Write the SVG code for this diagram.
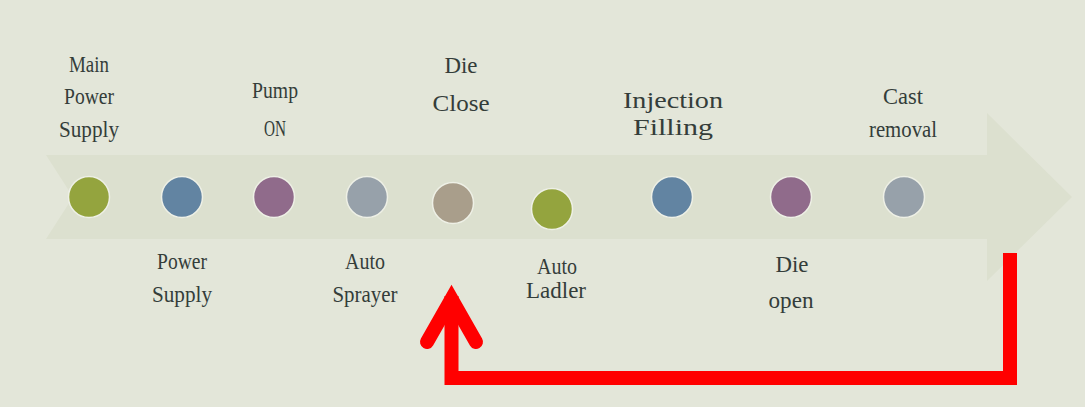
<svg xmlns="http://www.w3.org/2000/svg" width="1085" height="407" viewBox="0 0 1085 407">
<style>
.t{font-family:"Liberation Serif","DejaVu Serif",serif;font-size:23px;fill:#343d3a;text-anchor:middle}
.c{stroke:#eef0e6;stroke-width:1.5}
.red{fill:none;stroke:#ff0000;stroke-width:14}
</style>
<rect width="1085" height="407" fill="#e3e6d9"/>
<g id="band"><path d="M46,155 H987 V113 L1072,197 L987,281 V239 H46 L73,197 Z" fill="#dce0cf"/></g>
<g id="n1"><circle class="c" cx="89" cy="197" r="20.5" fill="#94a43e"/>
<text class="t" x="89" y="72" textLength="40" lengthAdjust="spacingAndGlyphs">Main</text>
<text class="t" x="89" y="104" textLength="50" lengthAdjust="spacingAndGlyphs">Power</text>
<text class="t" x="89" y="137" textLength="60" lengthAdjust="spacingAndGlyphs">Supply</text></g>
<g id="n2"><circle class="c" cx="182" cy="197" r="20.5" fill="#6284a2"/>
<text class="t" x="182" y="269" textLength="50" lengthAdjust="spacingAndGlyphs">Power</text>
<text class="t" x="182" y="302" textLength="60" lengthAdjust="spacingAndGlyphs">Supply</text></g>
<g id="n3"><circle class="c" cx="274" cy="197" r="20.5" fill="#906b8b"/>
<text class="t" x="275" y="98" textLength="46" lengthAdjust="spacingAndGlyphs">Pump</text>
<text class="t" x="275" y="136" textLength="22" lengthAdjust="spacingAndGlyphs">ON</text></g>
<g id="n4"><circle class="c" cx="367" cy="197" r="20.5" fill="#97a1aa"/>
<text class="t" x="365" y="269" textLength="40" lengthAdjust="spacingAndGlyphs">Auto</text>
<text class="t" x="365" y="302" textLength="65" lengthAdjust="spacingAndGlyphs">Sprayer</text></g>
<g id="n5"><circle class="c" cx="453" cy="203" r="20.5" fill="#a99e8b"/>
<text class="t" x="461" y="73" textLength="33" lengthAdjust="spacingAndGlyphs">Die</text>
<text class="t" x="461" y="111" textLength="57" lengthAdjust="spacingAndGlyphs">Close</text></g>
<g id="n6"><circle class="c" cx="552" cy="209" r="20.5" fill="#94a43e"/>
<text class="t" x="557" y="274" textLength="40" lengthAdjust="spacingAndGlyphs">Auto</text>
<text class="t" x="556" y="298" textLength="60" lengthAdjust="spacingAndGlyphs">Ladler</text></g>
<g id="n7"><circle class="c" cx="672" cy="197" r="20.5" fill="#6284a2"/>
<text class="t" x="673" y="108" textLength="100" lengthAdjust="spacingAndGlyphs">Injection</text>
<text class="t" x="673" y="135" textLength="80" lengthAdjust="spacingAndGlyphs">Filling</text></g>
<g id="n8"><circle class="c" cx="791" cy="197" r="20.5" fill="#906b8b"/>
<text class="t" x="792" y="272" textLength="33" lengthAdjust="spacingAndGlyphs">Die</text>
<text class="t" x="791" y="308" textLength="45" lengthAdjust="spacingAndGlyphs">open</text></g>
<g id="n9"><circle class="c" cx="904" cy="197" r="20.5" fill="#97a1aa"/>
<text class="t" x="903" y="104" textLength="40" lengthAdjust="spacingAndGlyphs">Cast</text>
<text class="t" x="903" y="137" textLength="68" lengthAdjust="spacingAndGlyphs">removal</text></g>
<g id="connectors">
<path class="red" d="M1010,253 V378 H451.5 V296" stroke-linejoin="miter"/>
<path class="red" d="M427,342 L451.5,299 L476,342" stroke-linejoin="miter" stroke-linecap="round"/>
</g>
</svg>
